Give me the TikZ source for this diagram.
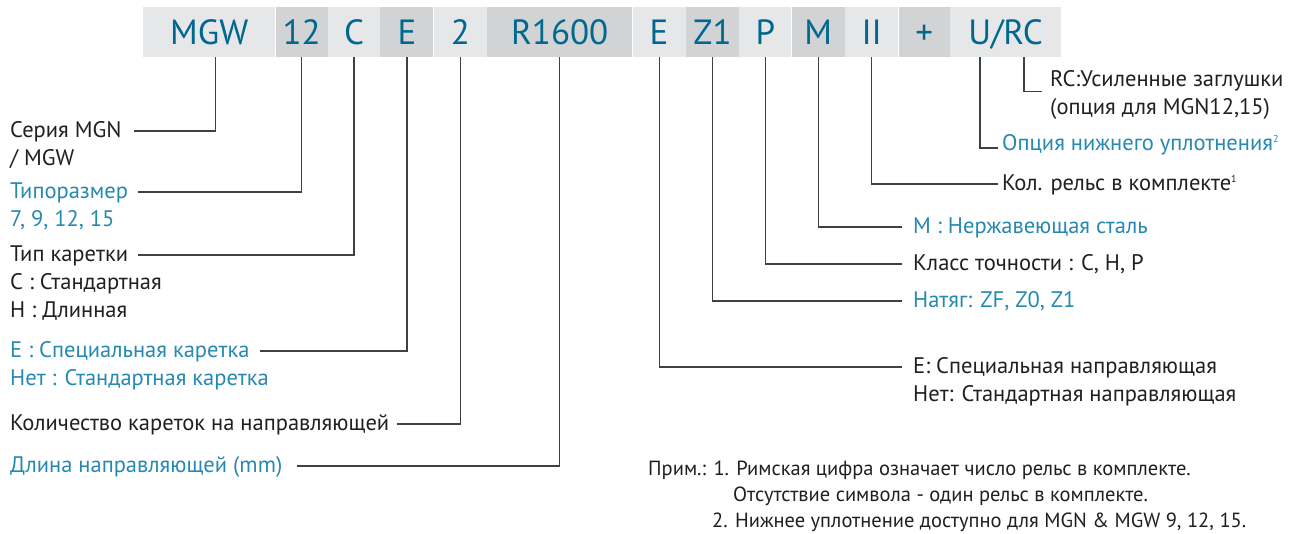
\documentclass[tikz,border=0pt]{standalone}
\usepackage{fontspec}
\setmainfont{PT Sans}
\usetikzlibrary{positioning}

\definecolor{codeblue}{RGB}{0,104,143}
\definecolor{lblblue}{RGB}{38,137,178}
\definecolor{txtdark}{RGB}{35,31,32}
\definecolor{leadgray}{RGB}{64,64,64}
\definecolor{celllight}{RGB}{230,231,232}
\definecolor{celldark}{RGB}{209,211,212}

\newcommand{\fnmark}[1]{\raisebox{8pt}{\fontsize{10}{10}\selectfont #1}}

\begin{document}
\begin{tikzpicture}[
    x=1pt, y=-1pt,
    cell/.style={fill=celllight, minimum height=50pt, inner sep=0pt, text height=25pt, text depth=0pt,
      font=\fontsize{35}{38}\selectfont, text=codeblue},
    celld/.style={cell, fill=celldark},
    lbl/.style={inner sep=0pt, anchor=base west, text height=17pt, text depth=5pt,
      font=\fontsize{22.5}{26}\selectfont, text=txtdark},
    lblb/.style={lbl, text=lblblue},
    note/.style={lbl, font=\fontsize{20.5}{24}\selectfont},
    nextline/.style={below right=6pt and 0pt of #1},
    lead/.style={draw=leadgray, line width=1.2pt},
  ]
    \useasboundingbox[fill=white] (0,0) rectangle (1303,533);

    % code band
    \node[cell, minimum width=132pt, anchor=north west] (mgw) at (143,7) {MGW};
    \node[celld, minimum width=52pt, right=0pt of mgw] (size) {12};
    \node[cell, minimum width=52pt, right=0pt of size] (ctype) {C};
    \node[celld, minimum width=53pt, right=0pt of ctype] (ecar) {E};
    \node[cell, minimum width=53pt, right=0pt of ecar] (num) {2};
    \node[celld, minimum width=145pt, right=0pt of num] (len) {R1600};
    \node[cell, minimum width=53pt, right=0pt of len] (erail) {E};
    \node[celld, minimum width=53pt, right=0pt of erail] (pre) {Z1};
    \node[cell, minimum width=52pt, right=0pt of pre] (prec) {P};
    \node[celld, minimum width=53pt, right=0pt of prec] (mat) {M};
    \node[cell, minimum width=53pt, right=0pt of mat] (ii) {II};
    \node[celld, minimum width=51pt, right=0pt of ii] (plus) {+};
    \node[cell, minimum width=111pt, right=0pt of plus] (urc) {U/RC};
    \coordinate (uTick) at ([xshift=-25.5pt]urc.south);
    \coordinate (rcTick) at ([xshift=18.5pt]urc.south);

    % left labels
    \node[lbl] (seria) at (10,137) {Серия MGN};
    \node[lbl, nextline=seria.south west] (seria2) {/ MGW};
    \node[lblb] (tipo) at (10,198) {Типоразмер};
    \node[lblb, nextline=tipo.south west] (tipo2) {7, 9, 12, 15};
    \node[lbl] (karet) at (10,261) {Тип каретки};
    \node[lbl, nextline=karet.south west] (karet2) {С : Стандартная};
    \node[lbl, nextline=karet2.south west] (karet3) {Н : Длинная};
    \node[lblb] (spec) at (10,357) {Е : Специальная каретка};
    \node[lblb, nextline=spec.south west] (spec2) {Нет : Стандартная каретка};
    \node[lbl] (kol) at (10,430) {Количество кареток на направляющей};
    \node[lblb] (dlina) at (10,472) {Длина направляющей (mm)};

    % right labels
    \node[lbl] (rc) at (1050,86) {RC:Усиленные заглушки};
    \node[lbl, nextline=rc.south west] (rc2) {(опция для MGN12,15)};
    \node[lblb] (seal) at (1002,150) {Опция нижнего уплотнения\fnmark{2}};
    \node[lbl] (rails) at (1002,190) {Кол. рельс в комплекте\fnmark{1}};
    \node[lblb] (steel) at (913,233) {M : Нержавеющая сталь};
    \node[lbl] (klass) at (913,270) {Класс точности : С, Н, Р};
    \node[lblb] (natyag) at (913,307) {Натяг: ZF, Z0, Z1};
    \node[lbl] (rail) at (913,373) {Е: Специальная направляющая};
    \node[lbl, nextline=rail.south west] (rail2) {Нет: Стандартная направляющая};

    % notes
    \node[note] (prim) at (648,475) {Прим.:};
    \node[note, right=7pt of prim.base east, anchor=base west] (note1) {1. Римская цифра означает число рельс в комплекте.};
    \node[note] (note1b) at (733,501) {Отсутствие символа - один рельс в комплекте.};
    \node[note] (note2) at (712,527) {2. Нижнее уплотнение доступно для MGN \& MGW 9, 12, 15.};

    % leaders, left side
    \draw[lead] ([xshift=6pt]mgw.south) |- ([xshift=12pt]seria.east);
    \draw[lead] (size.south) |- ([xshift=10pt]tipo.east);
    \draw[lead] (ctype.south) |- ([xshift=10pt]karet.east);
    \draw[lead] (ecar.south) |- ([xshift=10pt]spec.east);
    \draw[lead] (num.south) |- ([xshift=8pt]kol.east);
    \draw[lead] (len.south) |- ([xshift=14pt]dlina.east);

    % leaders, right side
    \draw[lead] (rcTick) |- ([xshift=-8pt]rc.south west);
    \draw[lead] (uTick) |- ([xshift=-4pt, yshift=2pt]seal.base west);
    \draw[lead] (ii.south) |- ([xshift=-4pt]rails.west);
    \draw[lead] (mat.south) |- ([xshift=-11pt]steel.west);
    \draw[lead] (prec.south) |- ([xshift=-11pt]klass.west);
    \draw[lead] (pre.south) |- ([xshift=-11pt]natyag.west);
    \draw[lead] (erail.south) |- ([xshift=-11pt]rail.west);
  \end{tikzpicture}
\end{document}
